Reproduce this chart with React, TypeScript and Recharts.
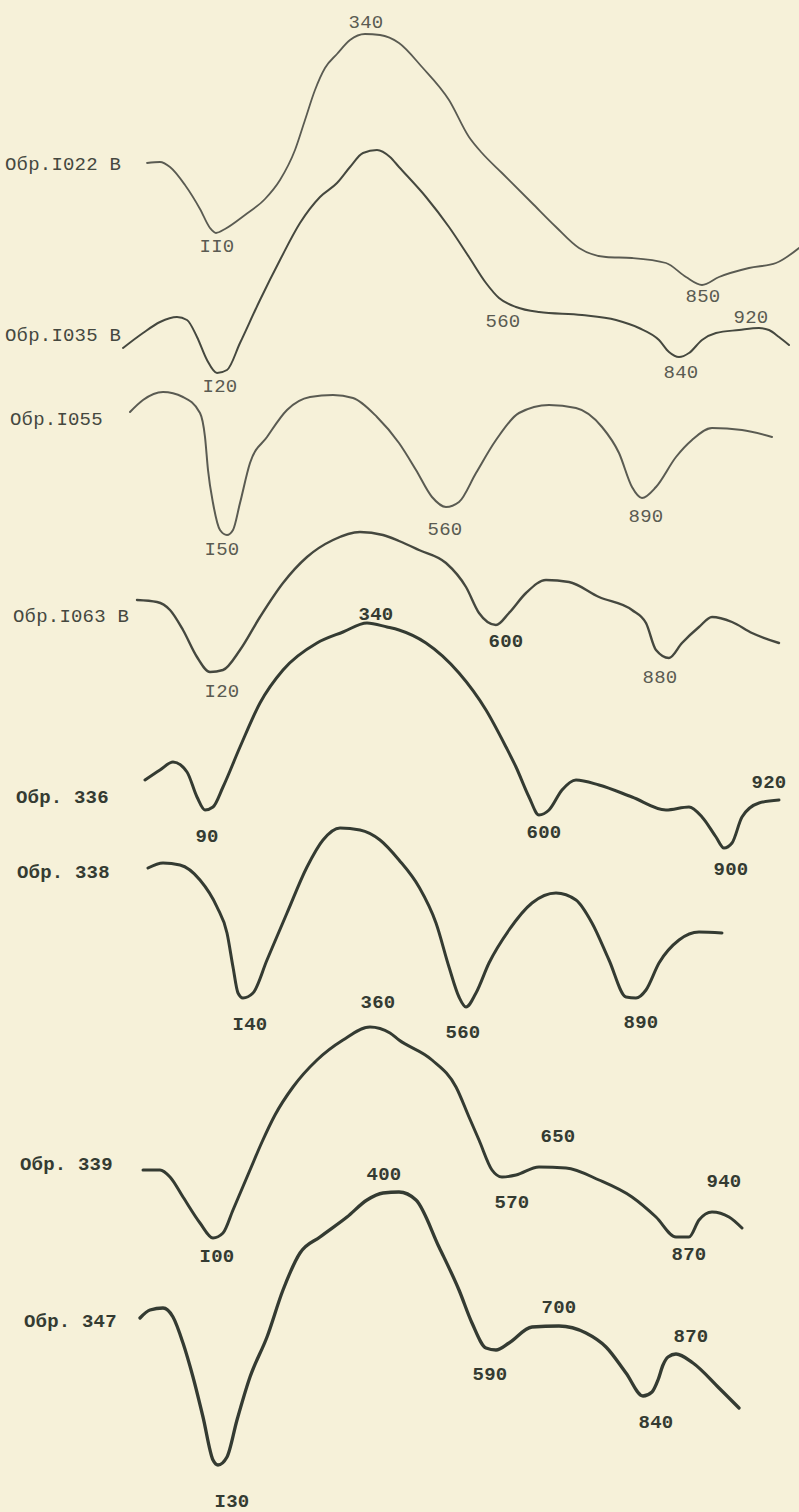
import React from 'react';
import { ComposedChart, Line, Scatter, XAxis, YAxis } from 'recharts';

type P = [number, number];
type Lbl = { x: number; y: number; t: string };

// Thermogram traces (horizontal position, vertical position in figure units)
const curve1022: P[] = [[147,163],[160,162],[170,167],[185,185],[200,209],[210,228],[216,233],[225,229],[245,215],[265,199],[280,180],[295,150],[305,120],[315,90],[325,68],[337,54],[350,40],[365,34],[380,35],[399,43],[422,67],[449,100],[469,137],[482,153],[502,173],[532,203],[556,227],[579,248],[606,257],[632,258],[666,263],[686,277],[702,285],[719,277],[749,268],[776,263],[799,248]];
const curve1035: P[] = [[123,348],[143,333],[160,322],[177,317],[187,320],[197,337],[207,360],[217,373],[227,370],[240,343],[260,300],[280,260],[300,223],[320,197],[337,183],[350,167],[363,153],[377,150],[390,157],[399,167],[426,197],[449,227],[469,257],[486,283],[499,298],[516,307],[539,312],[582,315],[616,320],[639,328],[659,340],[669,352],[679,357],[689,353],[702,340],[716,333],[739,330],[759,328],[769,330],[779,337],[789,345]];
const curve1055: P[] = [[130,412],[143,400],[163,392],[183,397],[200,413],[205,437],[208,470],[213,503],[220,530],[227,535],[233,530],[240,503],[250,463],[267,437],[287,410],[310,397],[333,395],[353,398],[377,417],[399,443],[416,470],[432,497],[446,507],[459,502],[476,473],[496,440],[519,413],[549,405],[576,408],[602,427],[619,453],[632,487],[642,498],[656,487],[676,457],[692,440],[712,428],[742,430],[772,437]];
const curve1063: P[] = [[137,600],[157,602],[170,610],[183,630],[197,657],[210,672],[223,670],[240,650],[260,617],[283,583],[307,557],[333,540],[360,532],[383,535],[399,541],[419,550],[446,563],[466,587],[479,613],[496,625],[509,613],[526,593],[546,580],[569,582],[599,597],[632,610],[646,623],[656,650],[669,658],[682,643],[699,627],[712,617],[732,622],[752,633],[779,643]];
const curve336: P[] = [[145,780],[160,770],[173,762],[187,772],[197,797],[205,810],[213,807],[223,787],[240,747],[260,703],[283,670],[317,643],[343,632],[367,623],[387,627],[399,630],[426,643],[459,673],[486,710],[506,747],[516,767],[529,797],[539,815],[549,810],[562,790],[576,780],[599,785],[632,797],[666,810],[689,807],[702,817],[716,837],[724,848],[732,843],[742,817],[759,803],[779,800]];
const curve338: P[] = [[148,868],[163,863],[180,865],[200,880],[217,907],[227,933],[233,967],[238,993],[243,998],[253,993],[267,960],[287,913],[307,867],[323,840],[340,828],[360,830],[380,840],[399,860],[419,887],[436,923],[449,967],[459,997],[466,1007],[476,993],[489,963],[509,930],[532,903],[556,893],[576,900],[592,923],[609,960],[626,997],[636,998],[646,990],[659,963],[679,940],[699,932],[722,933]];
const curve339: P[] = [[143,1170],[160,1170],[170,1177],[183,1197],[200,1223],[213,1238],[223,1233],[233,1210],[250,1170],[262,1142],[275,1115],[293,1087],[317,1060],[343,1040],[370,1027],[390,1033],[399,1040],[432,1060],[456,1087],[469,1117],[479,1140],[492,1170],[502,1177],[516,1175],[539,1167],[566,1168],[599,1180],[632,1197],[656,1217],[676,1237],[689,1237],[699,1220],[712,1212],[729,1217],[742,1228]];
const curve347: P[] = [[140,1318],[150,1310],[163,1308],[173,1317],[183,1343],[193,1377],[203,1417],[213,1460],[218,1465],[227,1457],[237,1420],[250,1377],[267,1337],[283,1290],[300,1253],[320,1237],[347,1217],[367,1200],[383,1193],[399,1192],[416,1200],[439,1247],[459,1290],[472,1323],[486,1348],[496,1350],[509,1343],[532,1327],[559,1326],[586,1333],[606,1347],[626,1373],[643,1396],[652,1392],[658,1380],[663,1365],[668,1357],[676,1354],[693,1363],[719,1388],[739,1408]];

// Sample names
const sampleNamesUpper: Lbl[] = [
  { x: 5, y: 165, t: 'Обр.I022 В' },
  { x: 5, y: 336, t: 'Обр.I035 В' },
  { x: 10, y: 420, t: 'Обр.I055' },
  { x: 13, y: 617, t: 'Обр.I063 В' },
];
const sampleNamesLower: Lbl[] = [
  { x: 16, y: 798, t: 'Обр. 336' },
  { x: 17, y: 873, t: 'Обр. 338' },
  { x: 20, y: 1165, t: 'Обр. 339' },
  { x: 24, y: 1322, t: 'Обр. 347' },
];

// Peak temperature annotations
const peaksLight: Lbl[] = [
  { x: 366, y: 23, t: '340' },
  { x: 217, y: 247, t: 'II0' },
  { x: 703, y: 297, t: '850' },
  { x: 220, y: 387, t: 'I20' },
  { x: 503, y: 322, t: '560' },
  { x: 681, y: 373, t: '840' },
  { x: 751, y: 318, t: '920' },
  { x: 222, y: 550, t: 'I50' },
  { x: 445, y: 530, t: '560' },
  { x: 646, y: 517, t: '890' },
  { x: 660, y: 678, t: '880' },
  { x: 222, y: 692, t: 'I20' },
];
const peaksDark: Lbl[] = [
  { x: 506, y: 642, t: '600' },
  { x: 376, y: 615, t: '340' },
  { x: 207, y: 837, t: '90' },
  { x: 544, y: 833, t: '600' },
  { x: 731, y: 870, t: '900' },
  { x: 769, y: 783, t: '920' },
  { x: 250, y: 1025, t: 'I40' },
  { x: 463, y: 1033, t: '560' },
  { x: 641, y: 1023, t: '890' },
  { x: 378, y: 1003, t: '360' },
  { x: 217, y: 1257, t: 'I00' },
  { x: 512, y: 1203, t: '570' },
  { x: 558, y: 1137, t: '650' },
  { x: 689, y: 1255, t: '870' },
  { x: 724, y: 1182, t: '940' },
  { x: 384, y: 1175, t: '400' },
  { x: 232, y: 1502, t: 'I30' },
  { x: 490, y: 1375, t: '590' },
  { x: 559, y: 1308, t: '700' },
  { x: 691, y: 1337, t: '870' },
  { x: 656, y: 1423, t: '840' },
];

const rows = (pts: P[]) => pts.map(([x, y]) => ({ x, y }));

const FONT = '"Liberation Mono", "DejaVu Sans Mono", monospace';
const PAPER = '#f6f1d9';
const INK_LIGHT = '#5a5b52';
const INK_MID = '#45483f';
const INK_DARK = '#343b32';

const textShape = (color: string, anchor: 'start' | 'middle', weight: number) => (props: any) => {
  const { cx, cy, payload } = props;
  if (cx == null || cy == null) return <g />;
  return (
    <text
      x={cx}
      y={cy}
      textAnchor={anchor}
      dominantBaseline="central"
      fill={color}
      fontFamily={FONT}
      fontSize={19}
      fontWeight={weight}
      letterSpacing={0.2}
    >
      {payload.t}
    </text>
  );
};

const series: { key: string; pts: P[]; color: string; w: number }[] = [
  { key: 'c1022', pts: curve1022, color: INK_LIGHT, w: 1.8 },
  { key: 'c1035', pts: curve1035, color: INK_MID, w: 2 },
  { key: 'c1055', pts: curve1055, color: INK_LIGHT, w: 2 },
  { key: 'c1063', pts: curve1063, color: INK_MID, w: 2.4 },
  { key: 'c336', pts: curve336, color: INK_DARK, w: 3 },
  { key: 'c338', pts: curve338, color: INK_DARK, w: 3 },
  { key: 'c339', pts: curve339, color: INK_DARK, w: 3 },
  { key: 'c347', pts: curve347, color: INK_DARK, w: 3.3 },
];

export default function App() {
  return (
    <div style={{ position: 'absolute', left: 0, top: 0, width: 799, height: 1512, background: PAPER }}>
      <ComposedChart width={799} height={1512} margin={{ top: 0, right: 0, bottom: 0, left: 0 }}>
        <XAxis type="number" dataKey="x" domain={[0, 799]} hide allowDataOverflow />
        <YAxis type="number" dataKey="y" domain={[0, 1512]} reversed hide allowDataOverflow width={0} />
        {series.map((s) => (
          <Line
            key={s.key}
            data={rows(s.pts)}
            dataKey="y"
            type="monotone"
            stroke={s.color}
            strokeWidth={s.w}
            strokeLinecap="round"
            strokeLinejoin="round"
            dot={false}
            activeDot={false}
            isAnimationActive={false}
          />
        ))}
        <Scatter data={sampleNamesUpper} dataKey="y" shape={textShape(INK_MID, 'start', 400)} isAnimationActive={false} />
        <Scatter data={sampleNamesLower} dataKey="y" shape={textShape(INK_DARK, 'start', 700)} isAnimationActive={false} />
        <Scatter data={peaksLight} dataKey="y" shape={textShape(INK_LIGHT, 'middle', 400)} isAnimationActive={false} />
        <Scatter data={peaksDark} dataKey="y" shape={textShape(INK_DARK, 'middle', 700)} isAnimationActive={false} />
      </ComposedChart>
    </div>
  );
}
